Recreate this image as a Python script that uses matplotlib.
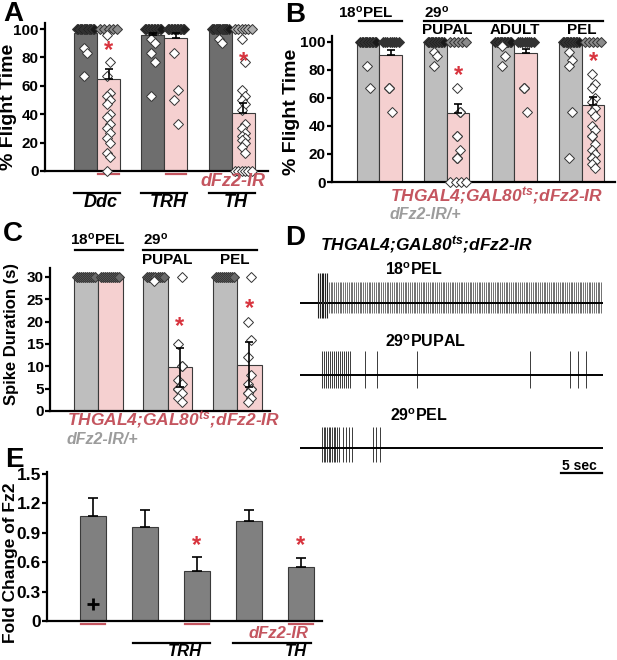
import numpy as np
import matplotlib.pyplot as plt
import matplotlib.transforms as mtransforms

W, H = 617, 660
plt.rcParams['font.family'] = ['Liberation Sans', 'DejaVu Sans']
plt.rcParams['font.weight'] = 'bold'
plt.rcParams['mathtext.fontset'] = 'custom'
plt.rcParams['mathtext.rm'] = 'Liberation Sans:bold'
plt.rcParams['mathtext.it'] = 'Liberation Sans:italic:bold'
plt.rcParams['mathtext.bf'] = 'Liberation Sans:bold'

DARK = '#6e6e6e'
MID = '#808080'
LIGHT = '#bebebe'
PINK = '#f5d0d0'
RED = '#c4555f'
STAR = '#d8343e'
EDGE = '#3a3a3a'
GRAYTXT = '#9c9c9c'

# ---- panel A: % flight time, pan-neuronal drivers
a_genes = ['Ddc', 'TRH', 'TH']
a_means = [97, 65, 96, 94, 99, 41]
a_err = [0, 7, 1, 3, 0, 7]
a_points = [
    [100] * 14 + [87, 83, 67],
    [100] * 5 + [96, 77, 67, 55, 53, 50, 47, 40, 38, 33, 30, 27, 23, 20, 13, 10, 0],
    [100] * 12 + [93, 90, 83, 77, 53],
    [100] * 12 + [83, 57, 50, 33],
    [100] * 15 + [93, 90],
    [100] * 6 + [93, 77, 57, 53, 50, 47, 43, 33, 30, 27, 25, 23, 22, 20, 17, 13] + [0] * 6,
]
a_star = [None, 85, None, None, None, 77]
a_top_face = ['#1a1a1a', '#8a8a8a', '#1a1a1a', '#222222', '#1a1a1a', '#b0b0b0']

# ---- panel B: % flight time, temperature shift
b_groups = ['18$^{\\mathrm{o}}$PEL', 'PUPAL', 'ADULT', 'PEL']
b_means = [99, 91, 99, 49, 99, 92, 99, 55]
b_err = [0, 3, 0, 7, 0, 3, 0, 6]
b_points = [
    [100] * 12 + [83, 67],
    [100] * 8 + [67, 67, 67, 50],
    [100] * 12 + [93, 90, 83],
    [100] * 5 + [67, 50, 50, 50, 33, 33, 23, 17, 17, 17, 0, 0, 0, 0],
    [100] * 12 + [97, 90, 83],
    [100] * 8 + [67, 67, 67, 50],
    [100] * 12 + [93, 87, 83, 50, 17],
    [100] * 5 + [77, 70, 67, 60, 57, 53, 50, 47, 40, 37, 33, 33, 27, 23, 20, 17, 17, 15, 13, 10],
]
b_star = [None, None, None, 76, None, None, None, 86]
b_top_face = ['#1a1a1a', '#333333', '#1a1a1a', '#8a8a8a', '#1a1a1a', '#333333', '#1a1a1a', '#8a8a8a']

# ---- panel C: spike duration (s)
c_means = [30, 30, 30, 9.8, 30, 10.4]
c_err = [0, 0, 0, 4.4, 0, 5.1]
c_points = [
    [30] * 10,
    [30] * 10,
    [30] * 9 + [29],
    [30, 15, 10, 10, 7, 6, 5, 5, 5, 4, 3, 2],
    [30] * 10,
    [30, 20, 16, 12, 8, 6, 5, 5, 4, 4, 3, 2],
]
c_star = [None, None, None, 19, None, 23]

# ---- panel D: spike trains (times in s)
pel18_train = (2.2, 36.8, 0.22)          # start, stop, interval
pupal29_burst = (2.7, 6.3, 0.24)
pupal29_single = [7.9, 9.4, 14.3, 28.0, 32.9, 33.9, 34.9]
pel29_burst = (2.7, 4.9, 0.2)
pel29_single = [5.2, 5.6, 6.0, 6.3, 8.9, 9.3, 9.8]

# ---- panel E: qPCR fold change
e_means = [1.07, 0.96, 0.51, 1.02, 0.55]
e_err = [0.18, 0.17, 0.14, 0.11, 0.09]
e_star = [None, None, 0.77, None, 0.77]

fig = plt.figure(figsize=(W / 100, H / 100), dpi=100)


def add_ax(x0, x1, y_top, y_bot):
    return fig.add_axes([x0 / W, 1 - y_bot / H, (x1 - x0) / W, (y_bot - y_top) / H])


def fx(px):
    return px / W


def fy(px):
    return 1 - px / H


def style(ax, ticks, labels, fs, top):
    for s in ['top', 'right']:
        ax.spines[s].set_visible(False)
    ax.spines['left'].set_linewidth(1.6)
    ax.spines['bottom'].set_linewidth(1.6)
    ax.spines['left'].set_bounds(0, top)
    ax.set_xticks([])
    ax.set_yticks(ticks)
    ax.set_yticklabels(labels, fontsize=fs, fontweight='bold')
    ax.tick_params(axis='y', length=3.5, width=1.6, pad=1)
    ax.patch.set_alpha(0)


def swarm(ax, x, vals, top, face, ms=4.6):
    vals = np.asarray(vals, dtype=float)
    uniq = sorted(set(vals), reverse=True)
    for i, v in enumerate(uniq):
        k = int(np.sum(vals == v))
        if k > 1 and (v == top or v == 0):
            xs = x + np.linspace(-0.36, 0.36, k) * (1 if k > 3 else 0.5)
        else:
            xs = np.full(k, x + 0.07 * (-1) ** i)
        fc = face if (v == top and k > 2) else 'white'
        ax.plot(xs, [v] * k, ls='none', marker='D', ms=ms, mfc=fc, mec='#333333',
                mew=0.7, zorder=3, clip_on=False)


def hline(ax, x0, x1, ypx, color, lw=1.4):
    tr = mtransforms.blended_transform_factory(ax.transData, fig.transFigure)
    ax.plot([x0, x1], [fy(ypx), fy(ypx)], color=color, lw=lw, transform=tr, clip_on=False)


def btext(ax, x, ypx, s, **kw):
    tr = mtransforms.blended_transform_factory(ax.transData, fig.transFigure)
    ax.text(x, fy(ypx), s, transform=tr, ha='center', va='center', **kw)


# ================= Panel A =================
axa = add_ax(45, 268, 14, 171)
axa.set_xlim(-2.26, 7.43)
axa.set_ylim(0, 110.6)
pos_a = np.array([g * 2.93 + d for g in range(3) for d in (-0.5, 0.5)])
axa.bar(pos_a, a_means, width=1, color=[DARK, PINK] * 3, edgecolor=EDGE, lw=0.8, zorder=1)
for i, p in enumerate(pos_a):
    if a_err[i] > 0:
        axa.errorbar(p, a_means[i], yerr=[[0], [a_err[i]]], fmt='none', ecolor='black',
                     elinewidth=1.2, capsize=3, capthick=1.2, zorder=4)
    swarm(axa, p, a_points[i], 100, a_top_face[i])
    if a_star[i] is not None:
        axa.text(p, a_star[i], '*', color=STAR, fontsize=17, ha='center', va='center', zorder=5)
style(axa, np.arange(0, 101, 20), [str(v) for v in range(0, 101, 20)], 11, 104)
fig.text(fx(9), fy(107), '% Flight Time', rotation=90, ha='center', va='center', fontsize=14)
for g in range(3):
    hline(axa, pos_a[2 * g + 1] - 0.45, pos_a[2 * g + 1] + 0.45, 173.5, RED, 1.6)
    hline(axa, pos_a[2 * g] - 0.5, pos_a[2 * g + 1] + 0.5, 193, 'black', 1.6)
    btext(axa, g * 2.93 + 0.15, 202.5, a_genes[g], fontsize=13, style='italic')
btext(axa, pos_a[5] - 0.45, 182, 'dFz2-IR', fontsize=13, style='italic', color=RED)
fig.text(fx(3), fy(14), 'A', fontsize=20, va='center', ha='left')

# ================= Panel B =================
axb = add_ax(332, 615, 34, 182)
axb.set_xlim(-2.11, 10.47)
axb.set_ylim(0, 105.7)
pos_b = np.array([g * 3.0 + d for g in range(4) for d in (-0.5, 0.5)])
axb.bar(pos_b, b_means, width=1, color=[LIGHT, PINK] * 4, edgecolor=EDGE, lw=0.8, zorder=1)
for i, p in enumerate(pos_b):
    if b_err[i] > 0:
        axb.errorbar(p, b_means[i], yerr=[[0], [b_err[i]]], fmt='none', ecolor='black',
                     elinewidth=1.2, capsize=3, capthick=1.2, zorder=4)
    swarm(axb, p, b_points[i], 100, b_top_face[i])
    if b_star[i] is not None:
        axb.text(p, b_star[i], '*', color=STAR, fontsize=17, ha='center', va='center', zorder=5)
style(axb, np.arange(0, 101, 20), [str(v) for v in range(0, 101, 20)], 11, 104)
fig.text(fx(291), fy(112), '% Flight Time', rotation=90, ha='center', va='center', fontsize=14)
btext(axb, pos_b[0] - 0.1, 12.5, b_groups[0], fontsize=11)
hline(axb, pos_b[0] - 0.4, pos_b[1] + 0.5, 20.5, 'black', 1.6)
tr = mtransforms.blended_transform_factory(axb.transData, fig.transFigure)
axb.text(pos_b[2] - 0.5, fy(12.5), '29$^{\\mathrm{o}}$', transform=tr, ha='left', va='center', fontsize=11)
hline(axb, pos_b[2] - 0.5, pos_b[7] + 0.45, 20.5, 'black', 1.6)
for g in range(1, 4):
    btext(axb, g * 3.0, 30, b_groups[g], fontsize=11)
fig.text(fx(390), fy(196), 'THGAL4;GAL80$^{ts}$;dFz2-IR', fontsize=12.5, style='italic',
         color=RED, ha='left', va='center')
fig.text(fx(390), fy(215), 'dFz2-IR/+', fontsize=11.5, style='italic', color=GRAYTXT,
         ha='left', va='center')
fig.text(fx(285), fy(15), 'B', fontsize=20, va='center', ha='left')

# ================= Panel C =================
axc = add_ax(50, 270, 260, 411)
axc.set_xlim(-1.96, 7.02)
axc.set_ylim(0, 33.8)
pos_c = np.array([g * 2.84 + d for g in range(3) for d in (-0.5, 0.5)])
axc.bar(pos_c, c_means, width=1, color=[LIGHT, PINK] * 3, edgecolor=EDGE, lw=0.8, zorder=1)
for i, p in enumerate(pos_c):
    if c_err[i] > 0:
        axc.errorbar(p, c_means[i], yerr=c_err[i], fmt='none', ecolor='black',
                     elinewidth=1.2, capsize=3, capthick=1.2, zorder=4)
    swarm(axc, p, c_points[i], 30, '#6a6a6a')
    if c_star[i] is not None:
        axc.text(p, c_star[i], '*', color=STAR, fontsize=17, ha='center', va='center', zorder=5)
style(axc, np.arange(0, 31, 5), [str(v) for v in range(0, 31, 5)], 11, 32)
fig.text(fx(12), fy(334), 'Spike Duration (s)', rotation=90, ha='center', va='center', fontsize=12)
btext(axc, pos_c[0] + 0.5, 240, b_groups[0], fontsize=11)
hline(axc, pos_c[0] - 0.45, pos_c[1] + 0.5, 250, 'black', 1.6)
tr = mtransforms.blended_transform_factory(axc.transData, fig.transFigure)
axc.text(pos_c[2] - 0.5, fy(240), '29$^{\\mathrm{o}}$', transform=tr, ha='left', va='center', fontsize=11)
hline(axc, pos_c[2] - 0.5, pos_c[5] + 0.3, 250, 'black', 1.6)
btext(axc, 2.84, 260, 'PUPAL', fontsize=11)
btext(axc, 2 * 2.84 - 0.1, 260, 'PEL', fontsize=11)
fig.text(fx(67), fy(420), 'THGAL4;GAL80$^{ts}$;dFz2-IR', fontsize=12.5, style='italic',
         color=RED, ha='left', va='center')
fig.text(fx(67), fy(440), 'dFz2-IR/+', fontsize=11.5, style='italic', color=GRAYTXT,
         ha='left', va='center')
fig.text(fx(3), fy(234), 'C', fontsize=20, va='center', ha='left')

# ================= Panel D =================
axd = add_ax(300, 606, 255, 485)
axd.set_xlim(0, 306 / 8.2)
axd.set_ylim(485, 255)
axd.axis('off')
end_t = 37.0
traces = [
    (303, [np.arange(*pel18_train)], (21, 10), '#707070'),
    (375, [np.arange(*pupal29_burst), np.array(pupal29_single)], (24, 13), '#3a3a3a'),
    (448, [np.arange(*pel29_burst), np.array(pel29_single)], (21, 14), '#3a3a3a'),
]
for base, trains, (up, dn), col in traces:
    for t in trains:
        axd.vlines(t, base - up, base + dn, color=col, lw=0.7)
    axd.hlines(base, 0, end_t, color='black', lw=1.4)
# larger onset spikes of the 18 PEL train
onset = np.arange(*pel18_train)[:6]
axd.vlines(onset, 303 - 30, 303 + 15, color='#222222', lw=0.8)
fig.text(fx(320), fy(245), 'THGAL4;GAL80$^{ts}$;dFz2-IR', fontsize=12.5, style='italic',
         ha='left', va='center')
fig.text(fx(385), fy(270), '18$^{\\mathrm{o}}$PEL', fontsize=11.5, ha='left', va='center')
fig.text(fx(385), fy(342), '29$^{\\mathrm{o}}$PUPAL', fontsize=11.5, ha='left', va='center')
fig.text(fx(390), fy(416), '29$^{\\mathrm{o}}$PEL', fontsize=11.5, ha='left', va='center')
axd.plot([31.8, 36.8], [473, 473], color='black', lw=1.6)
axd.text(34.1, 466, '5 sec', fontsize=10, ha='center', va='center')
fig.text(fx(285), fy(238), 'D', fontsize=20, va='center', ha='left')

# ================= Panel E =================
axe = add_ax(47, 322, 470, 621)
axe.set_xlim(-1.77, 8.81)
axe.set_ylim(0, 1.54)
pos_e = np.arange(5) * 2.0
axe.bar(pos_e, e_means, width=1, color=MID, edgecolor=EDGE, lw=0.8, zorder=1)
axe.errorbar(pos_e, e_means, yerr=[np.zeros(5), e_err], fmt='none', ecolor='black',
             elinewidth=1.2, capsize=3.5, capthick=1.2, zorder=4)
for i, p in enumerate(pos_e):
    if e_star[i] is not None:
        axe.text(p, e_star[i], '*', color=STAR, fontsize=17, ha='center', va='center', zorder=5)
axe.plot(pos_e[0], 0.17, marker='+', ms=8, mew=2, color='black', zorder=5)
style(axe, np.arange(0, 1.51, 0.3), ['0', '0.3', '0.6', '0.9', '1.2', '1.5'], 12.5, 1.52)
fig.text(fx(11), fy(563), 'Fold Change of Fz2', rotation=90, ha='center', va='center', fontsize=12.5)
for p in (pos_e[0], pos_e[2], pos_e[4]):
    hline(axe, p - 0.45, p + 0.45, 624, RED, 1.6)
hline(axe, pos_e[1] - 0.45, pos_e[2] + 0.5, 643, 'black', 1.6)
hline(axe, pos_e[3] - 0.6, pos_e[4] + 0.4, 643, 'black', 1.6)
btext(axe, pos_e[2] - 0.45, 652, 'TRH', fontsize=12, style='italic')
btext(axe, pos_e[4] - 0.2, 652, 'TH', fontsize=12, style='italic')
btext(axe, pos_e[4] - 0.85, 634, 'dFz2-IR', fontsize=12, style='italic', color=RED)
fig.text(fx(5), fy(460), 'E', fontsize=20, va='center', ha='left')

fig.savefig('out.png', dpi=100)
